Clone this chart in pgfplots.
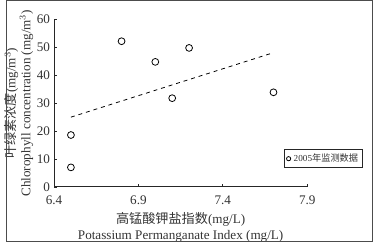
\documentclass[border=0pt]{standalone}
\usepackage{fontspec}
\setmainfont{Liberation Serif}
\newfontfamily\cjk{Noto Sans CJK SC}
\usepackage{pgfplots}
\pgfplotsset{compat=1.18}
\pgfplotstableread{
x y
6.5 7.0
6.5 18.6
6.8 52.2
7.0 44.8
7.1 31.8
7.2 49.8
7.7 33.9
}\pts
\pgfplotstableread{
x y
6.5 25.0
7.7 48.1
}\trend
\begin{document}
\begin{tikzpicture}
\begin{axis}[
  at={(0,0)}, anchor=south west,
  scale only axis, width=192.75pt, height=127.5pt,
  xmin=6.4, xmax=7.9, ymin=0, ymax=60,
  axis x line*=bottom, axis y line*=left,
  axis line style={-, black!85, line width=0.7pt},
  xtick={6.4,6.9,7.4,7.9}, ytick={0,10,...,60},
  tick align=inside, major tick length=2.2pt,
  tick style={black!85, line width=0.6pt},
  /pgf/number format/assume math mode=true,
  ticklabel style={font=\fontsize{10}{12}\selectfont, text=black!80},
  xticklabel style={yshift=-3.5pt, /pgf/number format/.cd, fixed, precision=1, fixed zerofill},
  yticklabel style={xshift=0.5pt},
  xlabel={{\cjk 高锰酸钾盐指数}(mg/L)\\Potassium Permanganate Index (mg/L)},
  xlabel style={align=center, font=\fontsize{10}{12.5}\selectfont, text=black!80, yshift=1.5pt},
  ylabel={{\cjk 叶绿素浓度}(mg/m$^3$)\\Chlorophyll concentration (mg/m$^3$)},
  ylabel style={align=center, font=\fontsize{10}{8}\selectfont, text=black!80, yshift=-4pt},
  legend style={at={(rel axis cs:1.218,0.2235)}, anchor=north east,
    font=\fontsize{7}{8}\selectfont, draw=black!85, line width=0.6pt,
    inner sep=1pt, row sep=0pt, text=black!80},
  legend cell align=left,
  legend image code/.code={\draw[#1] (0.12cm,0) circle (1.6pt);},
  clip=false,
]
\addplot[only marks, mark=o, mark size=2.6pt, black, line width=0.6pt] table {\pts};
\addlegendentry{2005{\cjk 年监测数据}}
\addplot[black, dashed, line width=0.6pt, forget plot] table {\trend};
\end{axis}
\draw[black!70, line width=0.6pt] (-36.5pt,-41.5pt) rectangle (242.5pt,142pt);
\end{tikzpicture}
\end{document}
